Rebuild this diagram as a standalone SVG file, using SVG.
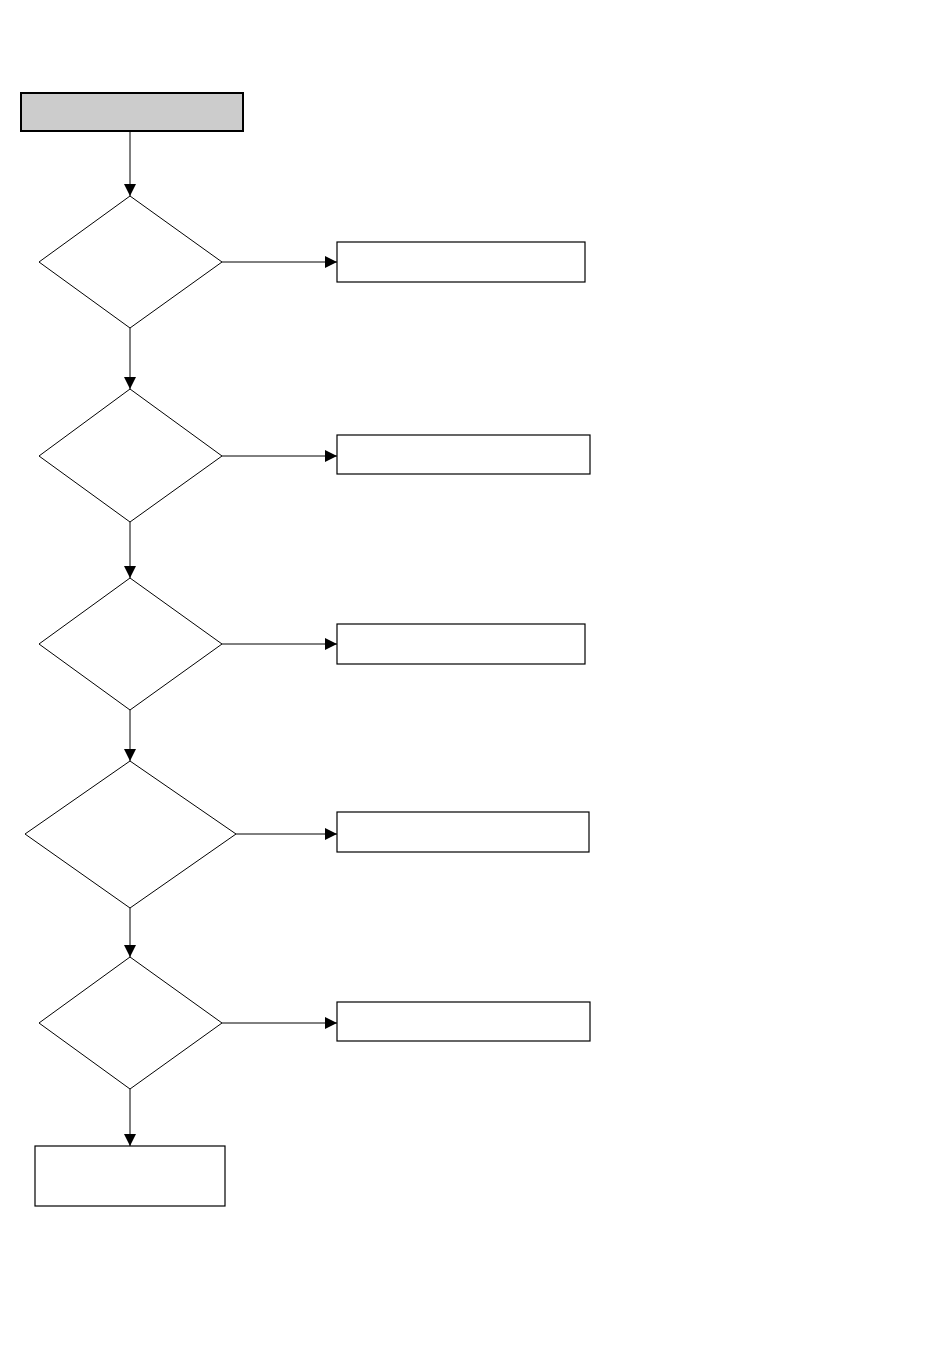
<svg xmlns="http://www.w3.org/2000/svg" width="950" height="1370" viewBox="0 0 950 1370">
<style>
.box{fill:#fff;stroke:#000;stroke-width:1.2}
.start{fill:#cccccc;stroke:#000;stroke-width:2}
.dia{fill:#fff;stroke:#000;stroke-width:1}
.con{stroke:#000;stroke-width:1;fill:none;marker-end:url(#ah)}
</style>
<defs>
<marker id="ah" markerWidth="12" markerHeight="12" refX="12" refY="6" orient="auto" markerUnits="userSpaceOnUse">
<path d="M0,0 L12,6 L0,12 Z" fill="#000"/>
</marker>
</defs>
<rect width="950" height="1370" fill="#fff"/>
<g id="connectors">
<line class="con" x1="130" y1="131" x2="130" y2="196"/>
<line class="con" x1="222" y1="262" x2="337" y2="262"/>
<line class="con" x1="130" y1="328" x2="130" y2="389"/>
<line class="con" x1="222" y1="456" x2="337" y2="456"/>
<line class="con" x1="130" y1="522" x2="130" y2="578"/>
<line class="con" x1="222" y1="644" x2="337" y2="644"/>
<line class="con" x1="130" y1="710" x2="130" y2="761"/>
<line class="con" x1="236" y1="834" x2="337" y2="834"/>
<line class="con" x1="130" y1="908" x2="130" y2="957"/>
<line class="con" x1="222" y1="1023" x2="337" y2="1023"/>
<line class="con" x1="130" y1="1089" x2="130" y2="1146"/>
</g>
<g id="start"><rect class="start" x="21" y="93" width="222" height="38"/></g>
<g id="d1"><polygon class="dia" points="130,196 222,262 130,328 39,262"/></g>
<g id="r1"><rect class="box" x="337" y="242" width="248" height="40"/></g>
<g id="d2"><polygon class="dia" points="130,389 222,456 130,522 39,456"/></g>
<g id="r2"><rect class="box" x="337" y="435" width="253" height="39"/></g>
<g id="d3"><polygon class="dia" points="130,578 222,644 130,710 39,644"/></g>
<g id="r3"><rect class="box" x="337" y="624" width="248" height="40"/></g>
<g id="d4"><polygon class="dia" points="130,761 236,834 130,908 25,834"/></g>
<g id="r4"><rect class="box" x="337" y="812" width="252" height="40"/></g>
<g id="d5"><polygon class="dia" points="130,957 222,1023 130,1089 39,1023"/></g>
<g id="r5"><rect class="box" x="337" y="1002" width="253" height="39"/></g>
<g id="end"><rect class="box" x="35" y="1146" width="190" height="60"/></g>
</svg>
